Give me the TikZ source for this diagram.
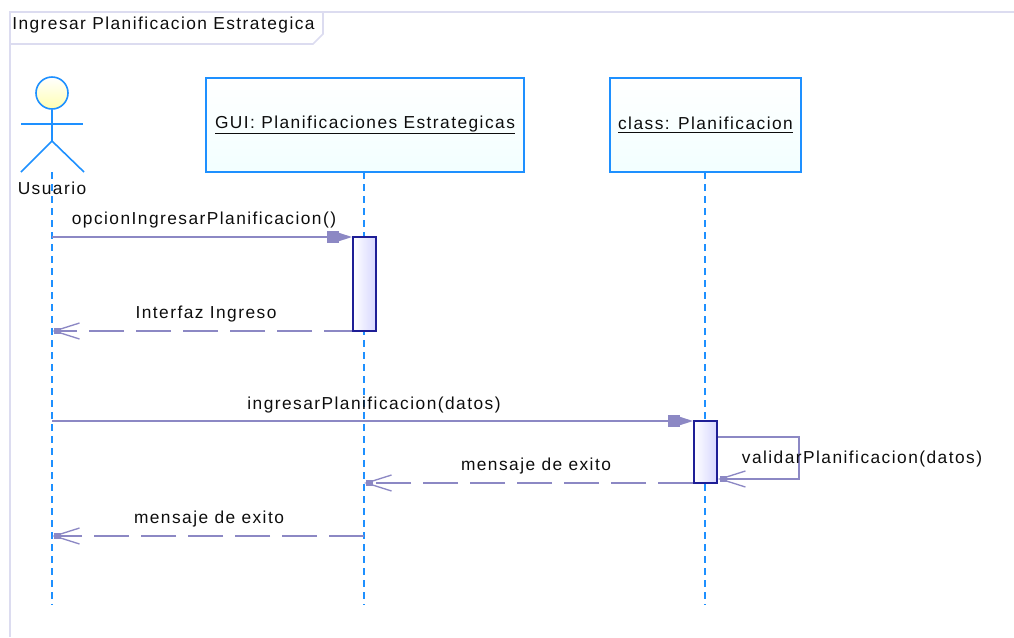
\documentclass[tikz,border=0pt]{standalone}
\usepackage{fontspec}
\setmainfont[LetterSpace=8.4]{Liberation Sans}
\usetikzlibrary{arrows.meta,positioning,calc}
\definecolor{lifeblue}{HTML}{1E90FF}
\definecolor{msgcol}{HTML}{8C88C4}
\definecolor{actcol}{HTML}{1E1E96}
\definecolor{framecol}{HTML}{DCDCF0}
\tikzset{
	lbl/.style={inner sep=0pt,font=\fontsize{13pt}{15pt}\selectfont,text=black!95},
	obj/.style={lbl,draw=lifeblue,line width=1.5pt,top color=white,bottom color=cyan!5,minimum height=70.5pt},
	act/.style={draw=actcol,line width=1.3pt,left color=white,right color=blue!16,minimum width=17.25pt,inner sep=0pt},
	life/.style={draw=lifeblue,line width=1.1pt,dash pattern=on 5pt off 4pt},
	stick/.style={draw=lifeblue,line width=1.2pt},
	msg/.style={draw=msgcol,line width=1.3pt},
	call/.style={msg,-{Rectangle[length=9pt,width=8.5pt,sep=0pt]Triangle[length=10pt,width=6pt]}},
	barbtip/.style={-{Straight Barb[length=19pt,width=12pt,line width=1pt,sep=-6.5pt]Rectangle[length=5pt,width=4.5pt,sep=1.5pt]}},
	reply/.style={msg,dash pattern=on 26.25pt off 9pt,barbtip},
	selfmsg/.style={msg,barbtip}
}
\begin{document}
\begin{tikzpicture}[x=0.75pt,y=-0.75pt]
	\useasboundingbox (0,0) rectangle (1014,637);

	% frame
	\coordinate (frameb) at (10,637);
	\coordinate (framet) at (10,12);
	\coordinate (framer) at (1014,12);
	\draw[framecol,line width=1.2pt] (frameb) -- (framet) -- (framer);
	\draw[framecol,line width=1.2pt] (10,44) -- (313,44) -- (323,34) -- (323,12);
	\node[lbl,anchor=west] (title) at (12,25) {Ingresar Planificacion Estrategica};

	% objects
	\node[obj,minimum width=238.5pt] (gui) at (365,125) {\underline{GUI: Planificaciones Estrategicas}};
	\node[obj,minimum width=143.25pt] (cls) at (705.5,125) {\underline{class: Planificacion}};

	% actor
	\node[circle,stick,minimum size=24pt,inner sep=0pt,top color=white,bottom color=yellow!30] (head) at (52,93) {};
	\coordinate (hip) at (52,141);
	\coordinate (foot) at (52,172);
	\draw[stick] (head.south) -- (hip);
	\draw[stick] (21,124) -- (83,124);
	\draw[stick] (21,172) -- (hip) -- (84,172);
	\node[lbl] (usr) at (52,188) {Usuario};

	% lifelines
	\coordinate (guitop) at (364,172);
	\coordinate (clstop) at (705,172);
	\coordinate (usrend) at (52,605);
	\coordinate (guiend) at (364,605);
	\coordinate (clsend) at (705,605);
	\draw[life] (foot) -- (usrend);
	\draw[life] (guitop) -- (guiend);
	\draw[life] (clstop) -- (clsend);

	% activations
	\node[act,minimum height=70.5pt] (act1) at (364.5,284) {};
	\node[act,minimum height=46.5pt] (act2) at (705.5,452) {};

	% messages
	\coordinate (m1) at (52,237);
	\coordinate (m2) at (52,331);
	\coordinate (m3) at (52,421);
	\coordinate (m4) at (364,483);
	\coordinate (m5a) at (52,536);
	\coordinate (m5b) at (364,536);
	\coordinate (s1) at (799,437);
	\coordinate (s2) at (799,479);

	\draw[call] (m1) -- (m1 -| act1.west);
	\draw[reply,dash phase=5.25pt] (m2 -| act1.west) -- (m2);
	\draw[call] (m3) -- (m3 -| act2.west);
	\draw[reply] (m4 -| act2.west) -- (m4);
	\draw[reply] (m5b) -- (m5a);
	\draw[selfmsg] (s1 -| act2.east) -- (s1) -- (s2) -- (s2 -| act2.east);

	\node[lbl] (l1) at (204,220) {opcionIngresarPlanificacion()};
	\node[lbl] (l2) at (206,314) {Interfaz Ingreso};
	\node[lbl] (l3) at (374,405) {ingresarPlanificacion(datos)};
	\node[lbl] (l4) at (536,466) {mensaje de exito};
	\node[lbl] (l5) at (209,519) {mensaje de exito};
	\node[lbl] (l6) at (862,459) {validarPlanificacion(datos)};
\end{tikzpicture}
\end{document}
